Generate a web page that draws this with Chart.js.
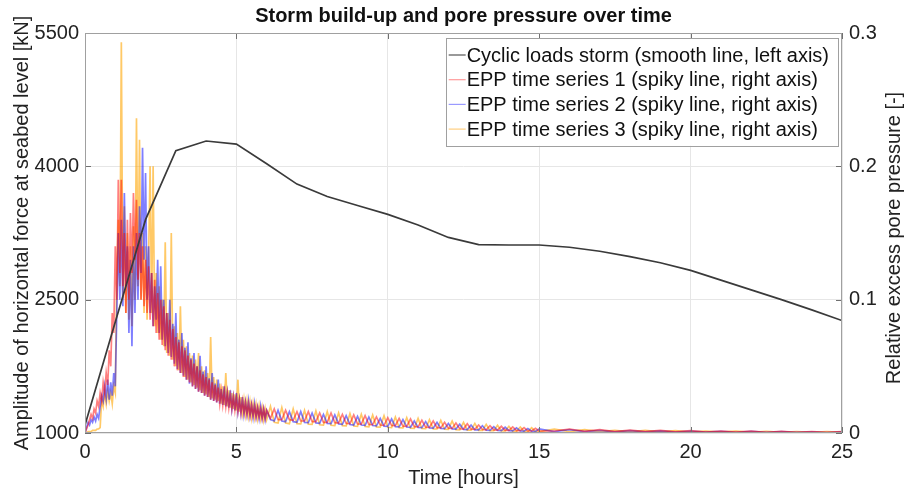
<!DOCTYPE html>
<html><head><meta charset="utf-8">
<script src="https://cdn.jsdelivr.net/npm/chart.js@4"></script>
<style>html,body{margin:0;padding:0;background:#fff;}#wrap{width:908px;height:490px;}</style>
</head><body><div id="wrap"><canvas id="c" width="908" height="490"></canvas></div>
<script>
const chartTitle = 'Storm build-up and pore pressure over time';
const xTitle = 'Time [hours]';
const leftTitle = 'Amplitude of horizontal force at seabed level [kN]';
const rightTitle = 'Relative excess pore pressure [-]';
const seriesNames = ['Cyclic loads storm (smooth line, left axis)','EPP time series 1 (spiky line, right axis)','EPP time series 2 (spiky line, right axis)','EPP time series 3 (spiky line, right axis)'];

const hourTicks = [0,5,10,15,20,25];
const leftTicks = [1000,2500,4000,5500];
const rightTicks = [0,0.1,0.2,0.3];

const stormHours = [0,1,2,3,4,5,6,7,8,9,10,11,12,13,14,15,16,17,18,19,20,21,22,23,24,25];
const stormLoad = [1090,2250,3400,4176,4285,4250,4030,3800,3660,3560,3460,3340,3200,3120,3115,3115,3090,3045,2985,2915,2830,2720,2610,2500,2385,2265];

const eppHours = [
0,.05,.1,.15,.2,.25,.3,.35,.4,.45,.5,.55,.6,.65,.7,.75,.8,.85,.9,.95,
1,1.05,1.1,1.15,1.2,1.25,1.3,1.35,1.4,1.45,1.5,1.55,1.6,1.65,1.7,1.75,1.8,1.85,1.9,1.95,
2,2.05,2.1,2.15,2.2,2.25,2.3,2.35,2.4,2.45,2.5,2.55,2.6,2.65,2.7,2.75,2.8,2.85,2.9,2.95,
3,3.05,3.1,3.15,3.2,3.25,3.3,3.35,3.4,3.45,3.5,3.55,3.6,3.65,3.7,3.75,3.8,3.85,3.9,3.95,
4,4.05,4.1,4.15,4.2,4.25,4.3,4.35,4.4,4.45,4.5,4.55,4.6,4.65,4.7,4.75,4.8,4.85,4.9,4.95,
5,5.05,5.1,5.15,5.2,5.25,5.3,5.35,5.4,5.45,5.5,5.55,5.6,5.65,5.7,5.75,5.8,5.85,5.9,5.95,
6,
6.125,6.25,6.375,6.5,6.625,6.75,6.875,7,7.125,7.25,7.375,7.5,7.625,7.75,7.875,8,
8.125,8.25,8.375,8.5,8.625,8.75,8.875,9,9.125,9.25,9.375,9.5,9.625,9.75,9.875,10,
10.125,10.25,10.375,10.5,10.625,10.75,10.875,11,11.125,11.25,11.375,11.5,11.625,11.75,11.875,12,
12.125,12.25,12.375,12.5,12.625,12.75,12.875,13,13.125,13.25,13.375,13.5,13.625,13.75,13.875,14,
14.125,14.25,14.375,14.5,14.625,14.75,14.875,15,
15.5,16,16.5,17,17.5,18,18.5,19,19.5,20,20.5,21,21.5,22,22.5,23,23.5,24,24.5,25];

const epp1 = [
0,.003,.006,.01,.014,.011,.018,.015,.024,.02,.03,.024,.038,.03,.045,.036,.062,.05,.09,.075,
.14,.1,.19,.12,.19,.11,.15,.09,.16,.1,.165,.12,.18,.13,.175,.115,.15,.1,.14,.095,
.13,.09,.125,.085,.12,.08,.115,.075,.105,.07,.1,.066,.095,.062,.09,.058,.085,.055,.078,.05,
.072,.047,.068,.045,.065,.042,.062,.04,.058,.038,.055,.035,.052,.033,.05,.031,.047,.03,.044,.028,
.042,.027,.04,.025,.038,.024,.036,.023,.034,.022,.032,.021,.031,.02,.03,.019,.028,.018,.027,.017,
.026,.016,.025,.015,.024,.015,.023,.014,.022,.013,.021,.013,.02,.012,.019,.012,.018,.011,.018,.011,
.017,
.011,.018,.01,.01,.017,.01,.0095,.016,.009,.009,.016,.0085,.0085,.015,.008,.008,.015,.0078,.0075,.014,.0072,.007,.0135,.0068,
.0066,.013,.0064,.0062,.012,.006,.0058,.0115,.0056,.0055,.011,.0052,.005,.0105,.0048,.0046,.0095,.0044,.0042,.009,.004,.0038,.008,.0036,
.0034,.0075,.0032,.003,.007,.0029,.0027,.006,.0026,.0024,.0055,.0023,.0021,.005,.002,.0019,.0045,.0018,.0017,.004,.0016,.0015,.0035,.0015,
.0015,.003,.0012,.0025,.001,.0022,.001,.002,.0008,.0018,.0007,.0015,.0006,.0014,.0005,.0012,.0005,.001,.0004,.001];

const epp2 = [
0,.004,.008,.006,.01,.008,.012,.009,.014,.011,.02,.028,.024,.035,.026,.04,.025,.038,.028,.045,
.035,.09,.15,.1,.16,.095,.18,.11,.14,.075,.13,.065,.14,.09,.15,.1,.17,.12,.214,.13,
.195,.1,.14,.09,.12,.08,.11,.085,.13,.075,.125,.07,.1,.065,.09,.06,.1,.057,.082,.052,
.09,.048,.07,.045,.075,.043,.064,.04,.068,.037,.056,.035,.06,.033,.05,.031,.058,.03,.046,.028,
.05,.027,.041,.025,.045,.024,.037,.023,.04,.022,.033,.021,.035,.02,.03,.019,.032,.018,.027,.017,
.03,.016,.025,.015,.027,.014,.023,.014,.024,.013,.021,.012,.022,.012,.019,.011,.02,.011,.018,.01,
.017,
.01,.009,.017,.009,.0085,.016,.0085,.008,.016,.008,.0078,.015,.0076,.0073,.014,.0072,.007,.0135,.0068,.0065,.013,.0064,.006,.0125,
.006,.0057,.012,.0056,.0054,.011,.0052,.005,.0105,.0048,.0046,.01,.0045,.0043,.009,.0042,.004,.0085,.0038,.0036,.008,.0034,.0032,.0072,
.003,.0029,.0066,.0027,.0026,.006,.0024,.0023,.0054,.0021,.002,.0048,.0019,.0018,.0043,.0017,.0016,.0038,.0015,.0014,.0034,.0013,.0012,.003,
.001,.0025,.001,.002,.0009,.0018,.0008,.0016,.0007,.0015,.0006,.0013,.0005,.0012,.0005,.001,.0004,.0009,.0003,.0008];

const epp3 = [
0,0,.001,.001,.001,.002,.002,.002,.003,.003,.004,.025,.02,.03,.022,.032,.024,.03,.022,.035,
.03,.12,.16,.11,.293,.1,.17,.09,.15,.085,.14,.08,.155,.1,.236,.11,.22,.1,.15,.09,
.14,.085,.13,.2,.09,.2,.08,.12,.075,.11,.07,.1,.065,.143,.06,.09,.058,.15,.055,.08,
.05,.075,.047,.095,.045,.07,.042,.065,.04,.06,.038,.058,.036,.055,.034,.06,.032,.05,.03,.047,
.029,.045,.027,.072,.026,.042,.025,.04,.024,.037,.022,.035,.021,.045,.02,.032,.019,.03,.018,.029,
.017,.04,.016,.027,.015,.025,.014,.024,.013,.023,.012,.022,.012,.021,.011,.02,.011,.019,.01,.018,
.01,
.02,.008,.0075,.019,.0075,.007,.018,.007,.0068,.017,.0066,.0064,.0165,.0062,.006,.016,.0058,.0056,.015,.0055,.0053,.0145,.0052,.005,
.014,.0049,.0047,.0135,.0046,.0044,.013,.0043,.0041,.012,.004,.0038,.0115,.0037,.0035,.011,.0034,.0032,.01,.0031,.003,.0095,.0028,.0027,
.009,.0025,.0024,.008,.0022,.0021,.0072,.002,.0019,.0065,.0018,.0017,.0058,.0016,.0015,.005,.0014,.0013,.0045,.0012,.0011,.004,.001,.001,
.003,.001,.0025,.001,.002,.0008,.002,.0008,.0018,.0007,.0015,.0006,.0014,.0005,.0012,.0005,.001,.0004,.001,.0004];

const FONT = "'Liberation Sans', Arial, Helvetica, sans-serif";
Chart.defaults.font.family = FONT;
Chart.defaults.color = '#222';

const pts = (xs, ys) => xs.map((x, i) => ({x, y: ys[i]}));
const lineColors = ['#3a3a3a','rgba(255,0,0,0.5)','rgba(0,0,255,0.5)','rgba(255,165,0,0.6)'];
const legendColors = ['#555','#ff9a9a','#9a9aff','#ffcf80'];

const decor = {
  id: 'decor',
  afterDatasetsDraw(chart) {
    const {ctx, chartArea: a, scales} = chart;
    ctx.save();
    const seg = (x1,y1,x2,y2)=>{ctx.beginPath();ctx.moveTo(x1,y1);ctx.lineTo(x2,y2);ctx.stroke();};
    ctx.strokeStyle = '#707070'; ctx.lineWidth = 1;
    hourTicks.forEach(v => { const x = Math.round(scales.x.getPixelForValue(v)) + 0.5; seg(x, a.bottom, x, a.bottom - 6); seg(x, a.top, x, a.top + 6); });
    leftTicks.forEach(v => { const y = Math.round(scales.y.getPixelForValue(v)) + 0.5; seg(a.left, y, a.left + 6, y); });
    rightTicks.forEach(v => { const y = Math.round(scales.y1.getPixelForValue(v)) + 0.5; seg(a.right, y, a.right - 6, y); });
    ctx.strokeStyle = '#a0a0a0';
    ctx.strokeRect(a.left + 0.5, a.top + 0.5, a.right - a.left - 1, a.bottom - a.top - 1);
    ctx.restore();
  },
  afterDraw(chart) {
    const {ctx, chartArea: a} = chart;
    ctx.save();
    ctx.fillStyle = '#111';
    ctx.font = 'bold 20px ' + FONT;
    ctx.textAlign = 'center'; ctx.textBaseline = 'middle';
    ctx.fillText(chartTitle, (a.left + a.right) / 2, 16);
    ctx.save();
    ctx.font = '20px ' + FONT; ctx.fillStyle = '#222';
    ctx.translate(894, 238); ctx.rotate(-Math.PI / 2);
    ctx.fillText(rightTitle, 0, 0);
    ctx.restore();
    ctx.font = '20px ' + FONT;
    let tw = 0; seriesNames.forEach(s => tw = Math.max(tw, ctx.measureText(s).width));
    const right = a.right - 4, top = a.top + 5, rowH = 24.7;
    const w = tw + 30, h = rowH * 4 + 9;
    const left = right - w;
    ctx.fillStyle = '#fff'; ctx.fillRect(left, top, w, h);
    ctx.strokeStyle = '#a0a0a0'; ctx.lineWidth = 1;
    ctx.strokeRect(Math.round(left) + 0.5, top + 0.5, Math.round(w), Math.round(h));
    ctx.textAlign = 'left';
    seriesNames.forEach((s, i) => {
      const y = top + 17 + i * rowH;
      ctx.strokeStyle = legendColors[i]; ctx.lineWidth = 1.2;
      ctx.beginPath(); ctx.moveTo(left + 3, y); ctx.lineTo(left + 20, y); ctx.stroke();
      ctx.fillStyle = '#111';
      ctx.fillText(s, left + 21, y + 1);
    });
    ctx.restore();
  }
};

new Chart(document.getElementById('c'), {
  type: 'line',
  data: {
    datasets: [
      {label: seriesNames[0], data: pts(stormHours, stormLoad), yAxisID: 'y', borderColor: lineColors[0], borderWidth: 1.7, pointRadius: 0, tension: 0, order: 0},
      {label: seriesNames[1], data: pts(eppHours, epp1), yAxisID: 'y1', borderColor: lineColors[1], borderWidth: 1.7, pointRadius: 0, tension: 0, order: 1},
      {label: seriesNames[2], data: pts(eppHours, epp2), yAxisID: 'y1', borderColor: lineColors[2], borderWidth: 1.7, pointRadius: 0, tension: 0, order: 2},
      {label: seriesNames[3], data: pts(eppHours, epp3), yAxisID: 'y1', borderColor: lineColors[3], borderWidth: 1.7, pointRadius: 0, tension: 0, order: 3}
    ]
  },
  options: {
    responsive: false, animation: false, devicePixelRatio: 1,
    layout: {padding: {top: 33, left: 0, right: 0, bottom: 0}},
    plugins: {legend: {display: false}, tooltip: {enabled: false}, title: {display: false}},
    scales: {
      x: {
        type: 'linear', min: 0, max: 25,
        afterBuildTicks: s => { s.ticks = hourTicks.map(v => ({value: v})); },
        afterFit: s => { s.height = 57; },
        grid: {color: '#e6e6e6', drawTicks: false}, border: {display: false},
        ticks: {font: {size: 20}, color: '#222', padding: 7, maxRotation: 0, callback: v => String(v)},
        title: {display: true, text: xTitle, font: {size: 20}, color: '#222', padding: {top: 0, bottom: 0}}
      },
      y: {
        position: 'left', min: 1000, max: 5500,
        afterBuildTicks: s => { s.ticks = leftTicks.map(v => ({value: v})); },
        afterFit: s => { s.width = 85; },
        grid: {color: '#e6e6e6', drawTicks: false}, border: {display: false},
        ticks: {font: {size: 20}, color: '#222', padding: 6, callback: v => String(v)},
        title: {display: true, text: leftTitle, font: {size: 20}, color: '#222', padding: {top: 10, bottom: 0}}
      },
      y1: {
        position: 'right', min: 0, max: 0.3,
        afterBuildTicks: s => { s.ticks = rightTicks.map(v => ({value: v})); },
        afterFit: s => { s.width = 66; },
        grid: {display: false, drawTicks: false}, border: {display: false},
        ticks: {font: {size: 20}, color: '#222', padding: 7, callback: v => String(v)},
        title: {display: false}
      }
    }
  },
  plugins: [decor]
});
</script></body></html>
